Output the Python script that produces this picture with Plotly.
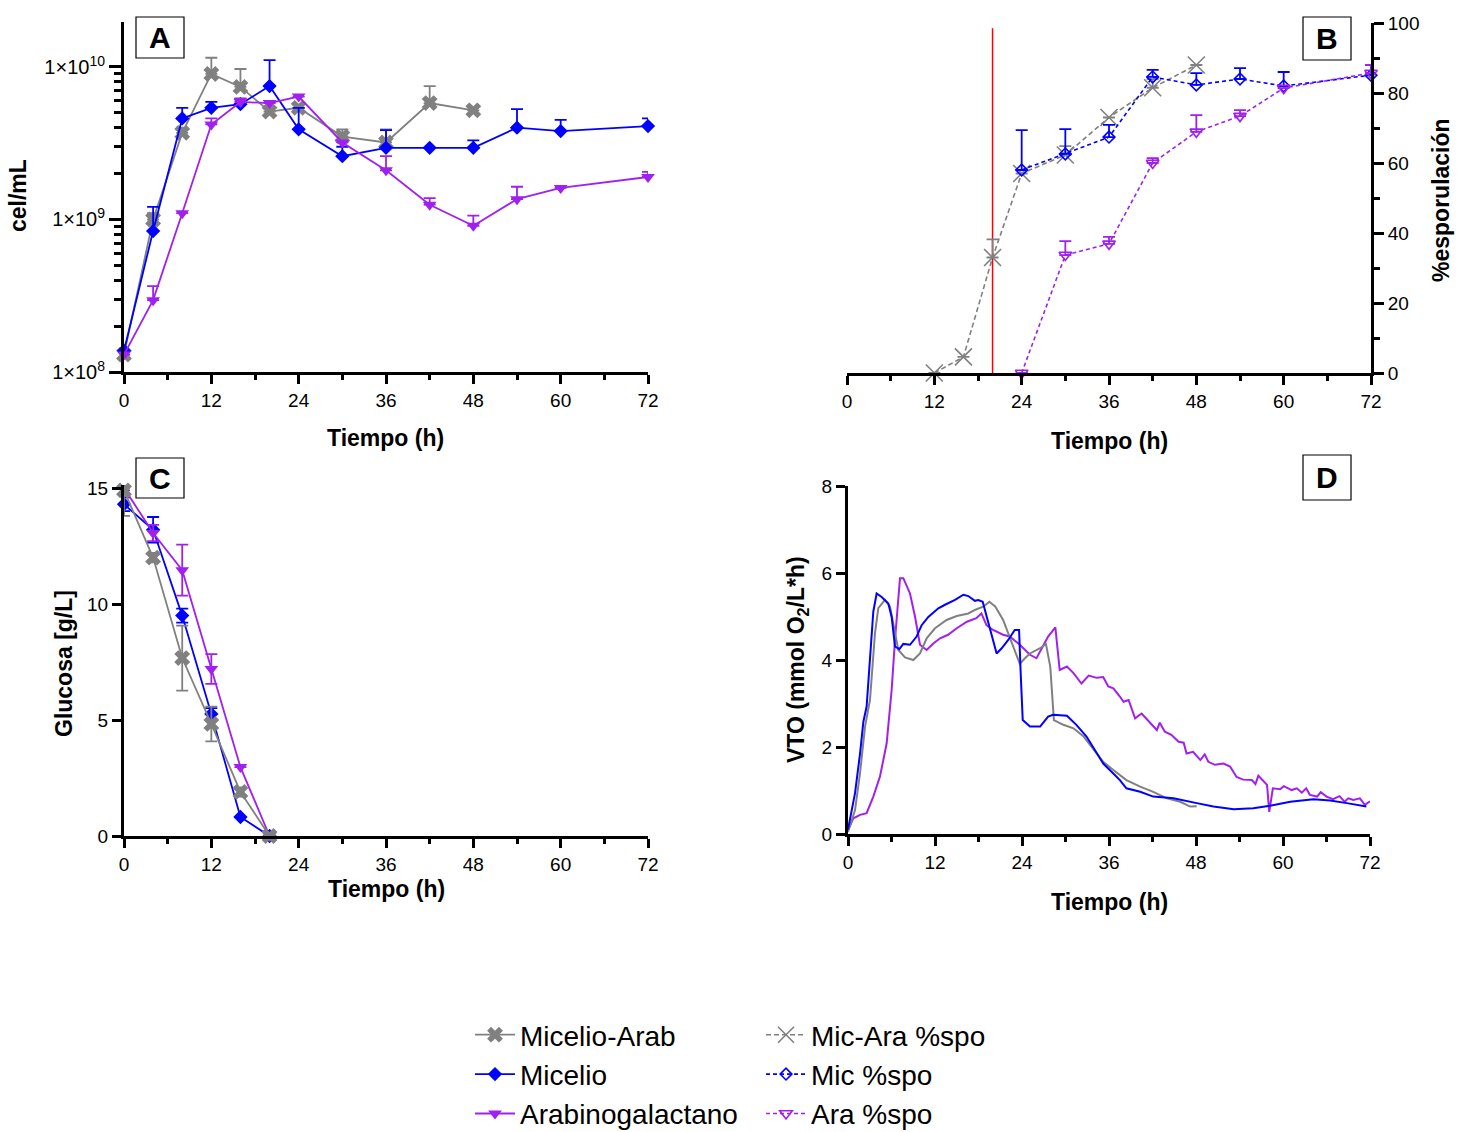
import plotly.graph_objects as go

W, H = 1469, 1132
FONT = "Liberation Sans, Arial, sans-serif"
GRAY, BLUE, PURPLE, RED = "#808080", "#0000FF", "#A020F0", "#FF0000"

# ---------------- Panel A : cel/mL (log) ----------------
a_t_ma = [0, 4, 8, 12, 16, 20, 24, 30, 36, 42, 48]
a_ma = [1.3e8, 1.0e9, 3.7e9, 9.0e9, 7.4e9, 5.1e9, 5.4e9, 3.5e9, 3.2e9, 5.8e9, 5.2e9]
a_ma_err = [None, 0.1e9, 0.3e9, 2.5e9, 2.3e9, None, None, 0.4e9, 0.7e9, 1.7e9, None]

a_t_mic = [0, 4, 8, 12, 16, 20, 24, 30, 36, 42, 48, 54, 60, 72]
a_mic = [1.38e8, 8.4e8, 4.6e9, 5.4e9, 5.7e9, 7.5e9, 3.9e9, 2.6e9, 2.95e9, 2.95e9, 2.95e9, 4.0e9, 3.8e9, 4.1e9]
a_mic_err = [None, 3.7e8, 0.8e9, 0.5e9, 0.5e9, 3.6e9, 1.5e9, 0.4e9, 0.9e9, None, 0.35e9, 1.3e9, 0.7e9, 0.5e9]

a_t_ara = [0, 4, 8, 12, 16, 20, 24, 30, 36, 42, 48, 54, 60, 72]
a_ara = [1.3e8, 2.96e8, 1.1e9, 4.2e9, 5.9e9, 5.8e9, 6.4e9, 3.2e9, 2.1e9, 1.25e9, 9.1e8, 1.36e9, 1.61e9, 1.9e9]
a_ara_err = [None, 0.7e8, None, 0.4e9, 0.3e9, None, None, None, 0.5e9, 0.13e9, 1.5e8, 0.28e9, None, 0.15e9]

# ---------------- Panel B : % esporulación ----------------
b_t_ma = [12, 16, 20, 24, 30, 36, 42, 48]
b_ma = [0, 4.6, 33, 57, 62.3, 73, 81.5, 88]
b_ma_err = [None, None, 5.2, None, 2.5, None, 2.5, None]

b_t_mic = [24, 30, 36, 42, 48, 54, 60, 72]
b_mic = [58, 62.6, 67.4, 84.6, 82.3, 84, 82, 85.1]
b_mic_err = [11.4, 7.1, 3.5, 2.0, 3.4, 3.1, 4.0, 2.9]

b_t_ara = [24, 30, 36, 42, 48, 54, 60, 72]
b_ara = [0, 33.7, 36.9, 60, 68.9, 73.4, 81.4, 85.7]
b_ara_err = [None, 4.0, 2.0, 1.4, 4.8, 1.7, None, 2.3]

red_line_t = 20
red_line_span = [0, 98.5]

# ---------------- Panel C : Glucosa ----------------
c_t = [0, 4, 8, 12, 16, 20]
c_ma = [14.9, 12.0, 7.67, 4.83, 1.9, 0]
c_ma_err_up = [0.1, 0.2, 1.4, 0.75, 0.2, None]
c_ma_err_dn = [1.1, 0.2, 1.4, 0.75, 0.2, None]
c_mic = [14.3, 13.2, 9.5, 5.26, 0.82, 0]
c_mic_err = [0.3, 0.55, 0.3, 0.25, None, None]
c_ara = [15.0, 13.06, 11.46, 7.2, 2.97, 0]
c_ara_err = [0.1, 0.35, 1.1, 0.64, None, None]

# ---------------- Panel D : VTO ----------------
d_t_mic = [0, 0.97, 1.66, 2.12, 2.57, 3.26, 3.49, 3.95, 4.64, 5.56, 6.02, 6.48, 7.08, 7.63, 8.55, 9.47,
           10.16, 11.08, 12.46, 13.38, 14.76, 15.91, 16.6, 17.5, 17.98, 18.58, 19.13, 19.95, 20.5, 21.2,
           22.1, 23.0, 23.6, 23.8, 24.1, 25.1, 26.5, 27.6, 28.3, 30.2, 31.5, 32.9, 34.3, 35.2, 36.6,
           37.5, 38.4, 40.3, 42.1, 44.9, 48.1, 50.4, 53.2, 55.9, 58.2, 61.0, 64.2, 66.5, 68.8, 71.5]
d_mic = [0.1, 0.94, 1.85, 2.58, 2.93, 4.46, 5.11, 5.53, 5.45, 5.30, 4.99, 4.31, 4.25, 4.37, 4.35, 4.54,
         4.8, 4.99, 5.19, 5.27, 5.38, 5.5, 5.47, 5.36, 5.38, 5.34, 4.99, 4.53, 4.15, 4.27,
         4.46, 4.69, 4.69, 3.77, 2.62, 2.47, 2.47, 2.70, 2.74, 2.72, 2.51, 2.24, 1.85, 1.62, 1.39,
         1.24, 1.05, 0.97, 0.86, 0.82, 0.71, 0.63, 0.57, 0.59, 0.65, 0.74, 0.80, 0.77, 0.71, 0.63]

d_t_ma = [0, 0.97, 1.66, 2.35, 3.03, 3.72, 4.18, 5.10, 5.79, 6.34, 6.94, 7.86, 9.01, 9.93, 10.85, 12.0,
          13.6, 15.0, 16.6, 17.5, 18.7, 19.5, 20.3, 21.4, 22.3, 23.3, 23.7, 24.4, 25.1, 26.5, 27.3,
          27.9, 28.4, 29.7, 31.1, 32.5, 33.8, 35.2, 36.6, 37.5, 38.4, 40.3, 42.1, 44.0, 45.8, 47.2, 48.1]
d_ma = [0.05, 0.55, 1.40, 2.47, 3.08, 4.61, 5.19, 5.38, 5.23, 4.77, 4.23, 4.06, 4.0, 4.15, 4.50, 4.73,
        4.92, 5.01, 5.07, 5.15, 5.23, 5.34, 5.23, 4.92, 4.54, 4.08, 3.91, 4.04, 4.15, 4.27, 4.37,
        3.85, 2.62, 2.51, 2.43, 2.24, 1.97, 1.66, 1.47, 1.36, 1.24, 1.09, 0.97, 0.82, 0.74, 0.63, 0.64]

d_t_ara = [0, 0.74, 1.66, 2.57, 3.49, 4.41, 5.33, 6.02, 6.48, 7.17, 7.63, 8.55, 9.24, 9.93, 10.85, 11.77,
           12.7, 13.8, 15.0, 16.4, 17.7, 18.4, 19.1, 20.0, 21.4, 22.3, 23.7, 25.1, 26.0, 26.9, 27.6,
           28.6, 29.2, 30.2, 31.1, 32.2, 33.2, 34.3, 35.2, 35.9, 36.6, 37.5, 38.0, 38.7, 39.6, 40.5,
           41.7, 42.6, 43.0, 43.7, 44.6, 45.6, 46.3, 46.7, 47.6, 48.6, 49.2, 49.7, 50.6, 51.8, 52.7,
           53.6, 54.5, 55.7, 56.2, 56.6, 57.8, 58.1, 58.6, 59.6, 60.1, 61.2, 61.9, 62.6, 63.2, 63.7,
           64.7, 65.2, 66.0, 66.9, 67.8, 68.5, 69.0, 69.7, 70.6, 71.3, 72.0]
d_ara = [0.09, 0.36, 0.44, 0.48, 0.86, 1.32, 2.08, 3.31, 4.46, 5.88, 5.88, 5.53, 5.0, 4.35, 4.23, 4.38,
         4.50, 4.58, 4.73, 4.88, 4.96, 5.07, 4.80, 4.69, 4.58, 4.54, 4.35, 4.12, 4.04, 4.31, 4.54,
         4.75, 3.77, 3.85, 3.70, 3.46, 3.64, 3.59, 3.61, 3.39, 3.35, 3.16, 3.04, 3.08, 2.66, 2.77,
         2.54, 2.39, 2.56, 2.35, 2.28, 2.12, 2.10, 1.85, 1.89, 1.70, 1.83, 1.66, 1.59, 1.62, 1.55,
         1.31, 1.25, 1.24, 1.15, 1.34, 1.13, 0.51, 1.05, 1.03, 1.10, 1.01, 1.05, 0.95, 1.05, 0.90,
         0.86, 0.96, 0.86, 0.80, 0.87, 0.74, 0.82, 0.78, 0.82, 0.67, 0.75]

x_ticks = [0, 12, 24, 36, 48, 60, 72]
x_minor = [6, 18, 30, 42, 54, 66]


def px(x):
    return x / W


def py(y):
    return 1 - y / H


def up_err(arr, color):
    return dict(type="data", symmetric=False, array=arr,
                arrayminus=[0 if v is not None else None for v in arr],
                color=color, thickness=1.8, width=6)


fig = go.Figure()

fig.add_trace(go.Scatter(x=a_t_ma, y=a_ma, name="Micelio-Arab", mode="lines+markers",
                         line=dict(color=GRAY, width=1.8),
                         marker=dict(symbol="x", size=14, color=GRAY),
                         error_y=up_err(a_ma_err, GRAY), xaxis="x", yaxis="y",
                         legend="legend", cliponaxis=False))
fig.add_trace(go.Scatter(x=a_t_mic, y=a_mic, name="Micelio", mode="lines+markers",
                         line=dict(color=BLUE, width=1.8),
                         marker=dict(symbol="diamond", size=11, color=BLUE),
                         error_y=up_err(a_mic_err, BLUE), xaxis="x", yaxis="y",
                         legend="legend", cliponaxis=False))
fig.add_trace(go.Scatter(x=a_t_ara, y=a_ara, name="Arabinogalactano", mode="lines+markers",
                         line=dict(color=PURPLE, width=1.8),
                         marker=dict(symbol="triangle-down", size=12, color=PURPLE),
                         error_y=up_err(a_ara_err, PURPLE), xaxis="x", yaxis="y",
                         legend="legend", cliponaxis=False))

fig.add_trace(go.Scatter(x=[red_line_t, red_line_t], y=red_line_span, mode="lines",
                         line=dict(color=RED, width=1.5), showlegend=False,
                         xaxis="x2", yaxis="y2", hoverinfo="skip"))
fig.add_trace(go.Scatter(x=b_t_ma, y=b_ma, name="Mic-Ara %spo", mode="lines+markers",
                         line=dict(color=GRAY, width=1.6, dash="5px,3px"),
                         marker=dict(symbol="x-thin-open", size=17, color=GRAY,
                                     line=dict(color=GRAY, width=1.6)),
                         error_y=up_err(b_ma_err, GRAY), xaxis="x2", yaxis="y2",
                         legend="legend2", cliponaxis=False))
fig.add_trace(go.Scatter(x=b_t_mic, y=b_mic, name="Mic %spo", mode="lines+markers",
                         line=dict(color=BLUE, width=1.6, dash="4px,3px"),
                         marker=dict(symbol="diamond-open", size=9, color=BLUE,
                                     line=dict(color=BLUE, width=1.6)),
                         error_y=up_err(b_mic_err, BLUE), xaxis="x2", yaxis="y2",
                         legend="legend2", cliponaxis=False))
fig.add_trace(go.Scatter(x=b_t_ara, y=b_ara, name="Ara %spo", mode="lines+markers",
                         line=dict(color=PURPLE, width=1.6, dash="4px,3px"),
                         marker=dict(symbol="triangle-down-open", size=11, color=PURPLE,
                                     line=dict(color=PURPLE, width=1.6)),
                         error_y=up_err(b_ara_err, PURPLE), xaxis="x2", yaxis="y2",
                         legend="legend2", cliponaxis=False))

fig.add_trace(go.Scatter(x=c_t, y=c_mic, mode="lines+markers", showlegend=False,
                         line=dict(color=BLUE, width=1.8),
                         marker=dict(symbol="diamond", size=11, color=BLUE),
                         error_y=dict(type="data", array=c_mic_err, color=BLUE, thickness=1.8, width=6),
                         xaxis="x3", yaxis="y3", cliponaxis=False))
fig.add_trace(go.Scatter(x=c_t, y=c_ara, mode="lines+markers", showlegend=False,
                         line=dict(color=PURPLE, width=1.8),
                         marker=dict(symbol="triangle-down", size=12, color=PURPLE),
                         error_y=dict(type="data", array=c_ara_err, color=PURPLE, thickness=1.8, width=6),
                         xaxis="x3", yaxis="y3", cliponaxis=False))
fig.add_trace(go.Scatter(x=c_t, y=c_ma, mode="lines+markers", showlegend=False,
                         line=dict(color=GRAY, width=1.8),
                         marker=dict(symbol="x", size=14, color=GRAY),
                         error_y=dict(type="data", symmetric=False, array=c_ma_err_up,
                                      arrayminus=c_ma_err_dn, color=GRAY, thickness=1.8, width=6),
                         xaxis="x3", yaxis="y3", cliponaxis=False))

fig.add_trace(go.Scatter(x=d_t_ara, y=d_ara, mode="lines", showlegend=False,
                         line=dict(color=PURPLE, width=2), xaxis="x4", yaxis="y4"))
fig.add_trace(go.Scatter(x=d_t_ma, y=d_ma, mode="lines", showlegend=False,
                         line=dict(color=GRAY, width=2), xaxis="x4", yaxis="y4"))
fig.add_trace(go.Scatter(x=d_t_mic, y=d_mic, mode="lines", showlegend=False,
                         line=dict(color=BLUE, width=2), xaxis="x4", yaxis="y4"))


def axis(domain, anchor, **kw):
    d = dict(domain=domain, anchor=anchor, showline=True, linecolor="black", linewidth=3,
             ticks="outside", ticklen=9, tickwidth=3, tickcolor="black",
             showgrid=False, zeroline=False, automargin=False,
             tickfont=dict(family=FONT, size=19, color="black"))
    d.update(kw)
    return d


minor_x = dict(tickvals=x_minor, ticks="outside", ticklen=5, tickwidth=3,
               tickcolor="black", showgrid=False)

log_minor = [m * 10 ** e for e in (8, 9) for m in range(2, 10)]

fig.update_layout(
    width=W, height=H, margin=dict(l=0, r=0, t=0, b=0, autoexpand=False),
    paper_bgcolor="white", plot_bgcolor="white",
    font=dict(family=FONT, color="black"),
    xaxis=axis([px(124), px(648)], "y", range=[0, 72], tickvals=x_ticks, minor=minor_x),
    yaxis=axis([py(372), py(22)], "x", type="log", range=[8, 10.295],
               tickvals=[1e8, 1e9, 1e10],
               ticktext=["1×10<sup>8</sup>", "1×10<sup>9</sup>", "1×10<sup>10</sup>"],
               ticklen=12, tickfont=dict(family=FONT, size=20, color="black"),
               minor=dict(tickvals=log_minor, ticks="outside", ticklen=7, tickwidth=3,
                          tickcolor="black", showgrid=False)),
    xaxis2=axis([px(847), px(1371)], "y2", range=[0, 72], tickvals=x_ticks, minor=minor_x),
    yaxis2=axis([py(373), py(23)], "x2", side="right", range=[0, 100],
                tickvals=[0, 20, 40, 60, 80, 100], ticklen=10,
                minor=dict(tickvals=[10, 30, 50, 70, 90], ticks="outside", ticklen=6,
                           tickwidth=3, tickcolor="black", showgrid=False)),
    xaxis3=axis([px(124), px(648)], "y3", range=[0, 72], tickvals=x_ticks, minor=minor_x),
    yaxis3=axis([py(836), py(485)], "x3", range=[0, 15.13], tickvals=[0, 5, 10, 15]),
    xaxis4=axis([px(848), px(1370)], "y4", range=[0, 72], tickvals=x_ticks, minor=minor_x),
    yaxis4=axis([py(834), py(486)], "x4", range=[0, 8], tickvals=[0, 2, 4, 6, 8]),
    legend=dict(x=px(470), y=py(1010), xanchor="left", yanchor="top",
                font=dict(family=FONT, size=28, color="black"), bgcolor="rgba(0,0,0,0)",
                itemwidth=40, tracegroupgap=0),
    legend2=dict(x=px(761), y=py(1010), xanchor="left", yanchor="top",
                 font=dict(family=FONT, size=28, color="black"), bgcolor="rgba(0,0,0,0)",
                 itemwidth=40, tracegroupgap=0),
)

title_font = dict(family=FONT, size=23, color="black")
titles = [
    ("<b>cel/mL</b>", 18, 196, -90),
    ("<b>Tiempo (h)</b>", 385, 438, 0),
    ("<b>%esporulación</b>", 1441, 200, -90),
    ("<b>Tiempo (h)</b>", 1109, 441, 0),
    ("<b>Glucosa [g/L]</b>", 64, 663, -90),
    ("<b>Tiempo (h)</b>", 386, 889, 0),
    ("<b>VTO (mmol O<sub>2</sub>/L*h)</b>", 797, 660, -90),
    ("<b>Tiempo (h)</b>", 1109, 902, 0),
]
for text, x, y, ang in titles:
    fig.add_annotation(text=text, x=px(x), y=py(y), xref="paper", yref="paper",
                       showarrow=False, textangle=ang, font=title_font,
                       xanchor="center", yanchor="middle")

boxes = [("A", 136, 17, 184, 58), ("B", 1303, 17, 1351, 60),
         ("C", 136, 458, 184, 498), ("D", 1303, 455, 1351, 500)]
for letter, x0, y0, x1, y1 in boxes:
    fig.add_shape(type="rect", xref="paper", yref="paper", x0=px(x0), x1=px(x1),
                  y0=py(y1), y1=py(y0), line=dict(color="black", width=1.2),
                  fillcolor="white")
    fig.add_annotation(text="<b>%s</b>" % letter, x=px((x0 + x1) / 2), y=py((y0 + y1) / 2),
                       xref="paper", yref="paper", showarrow=False,
                       font=dict(family=FONT, size=30, color="black"),
                       xanchor="center", yanchor="middle")

fig.write_html("out.html", config={"displayModeBar": False},
               post_script="document.body.style.margin='0px';document.body.style.overflow='hidden';")
